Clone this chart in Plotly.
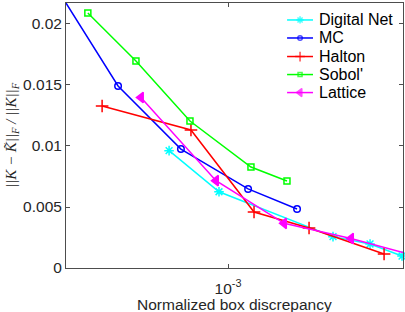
import plotly.graph_objects as go

# Data
mc_x = [3.548e-4, 4.95e-4, 7.40e-4, 1.137e-3, 1.555e-3]
mc_y = [0.02172, 0.01492, 0.00975, 0.00648, 0.00484]

sobol_x = [4.08e-4, 5.55e-4, 7.84e-4, 1.158e-3, 1.458e-3]
sobol_y = [0.0209, 0.01697, 0.01205, 0.00828, 0.00713]

halton_x = [4.47e-4, 7.89e-4, 1.181e-3, 1.679e-3, 2.713e-3]
halton_y = [0.01328, 0.01131, 0.00459, 0.00328, 0.00115]

lattice_x = [5.73e-4, 9.26e-4, 1.431e-3, 2.196e-3, 3.063e-3]
lattice_y = [0.01398, 0.00716, 0.00366, 0.00242, 0.00127]

dnet_x = [6.86e-4, 9.44e-4, 1.957e-3, 2.480e-3, 3.043e-3]
dnet_y = [0.00962, 0.00625, 0.00257, 0.00197, 0.00098]

y_tickvals = [0, 0.005, 0.01, 0.015, 0.02]
y_ticktext = ["0", "0.005", "0.01", "0.015", "0.02"]
x_tickvals = [1e-3]
x_ticktext = ["10<sup>-3</sup>"]

series = [
    ("Digital Net", dnet_x, dnet_y, "#00FFFF", "asterisk-open", 8, False),
    ("MC", mc_x, mc_y, "#0000FF", "circle-open", 6.5, False),
    ("Halton", halton_x, halton_y, "#FF0000", "cross-thin-open", 9, False),
    ("Sobol'", sobol_x, sobol_y, "#00FF00", "square-open", 6, False),
    ("Lattice", lattice_x, lattice_y, "#FF00FF", "triangle-left", 9, True),
]

# legend layout (paper fractions of the plot area)
leg_x0, leg_x1, leg_text_x = 0.656, 0.733, 0.745
leg_y = [0.936, 0.868, 0.798, 0.730, 0.662]

fig = go.Figure()
LW = 1.5
for name, x, y, color, symbol, size, filled in series:
    fig.add_trace(go.Scatter(
        x=x, y=y, name=name, mode="lines+markers",
        line=dict(color=color, width=LW),
        marker=dict(symbol=symbol, size=size, color=color,
                    line=dict(color=color, width=LW)),
        cliponaxis=False, showlegend=False,
    ))

annotations = []
for (name, x, y, color, symbol, size, filled), ly in zip(series, leg_y):
    xm = (leg_x0 + leg_x1) / 2
    fig.add_trace(go.Scatter(
        x=[leg_x0, xm, leg_x1], y=[ly, ly, ly], xaxis="x2", yaxis="y2",
        mode="lines+markers", line=dict(color=color, width=LW),
        marker=dict(symbol=symbol, size=[0, size - 2, 0], color=color,
                    line=dict(color=color, width=LW)),
        cliponaxis=False, showlegend=False, hoverinfo="skip",
    ))
    annotations.append(dict(
        x=leg_text_x, y=ly, xref="paper", yref="paper", text=name,
        showarrow=False, xanchor="left", yanchor="middle",
        font=dict(family="Liberation Sans, Arial", size=16, color="black"),
    ))

# x-axis title as an annotation for exact placement
annotations.append(dict(
    x=0.5, y=-0.136, xref="paper", yref="paper", text="Normalized box discrepancy",
    showarrow=False, xanchor="center", yanchor="middle",
    font=dict(family="Liberation Sans, Arial", size=15.5, color="#262626"),
))

axis_common = dict(
    showline=True, linecolor="#4d4d4d", linewidth=1, mirror="ticks",
    ticks="inside", ticklen=4, tickcolor="#4d4d4d", showgrid=False,
    zeroline=False, automargin=False,
    tickfont=dict(family="Liberation Sans, Arial", size=15.5, color="#262626"),
)

fig.update_layout(
    width=405, height=312,
    margin=dict(l=66, r=2, t=3, b=44),
    paper_bgcolor="white", plot_bgcolor="white",
    xaxis=dict(type="log", range=[-3.45, -2.514], tickvals=x_tickvals, ticktext=x_ticktext,
               ticklabelstandoff=6, **axis_common),
    yaxis=dict(range=[0, 0.02172], tickvals=y_tickvals, ticktext=y_ticktext,
               title=dict(text="<i>||K − K̃||<sub>F</sub> / ||K||<sub>F</sub></i>", standoff=2,
                          font=dict(family="Liberation Serif, Times New Roman", size=15, color="#262626")),
               **axis_common),
    xaxis2=dict(overlaying="x", range=[0, 1], visible=False, fixedrange=True),
    yaxis2=dict(overlaying="y", range=[0, 1], visible=False, fixedrange=True),
    annotations=annotations,
    showlegend=False,
)

fig.write_html("out.html", config={"displayModeBar": False},
               post_script="document.body.style.margin='0';document.body.style.padding='0';")
